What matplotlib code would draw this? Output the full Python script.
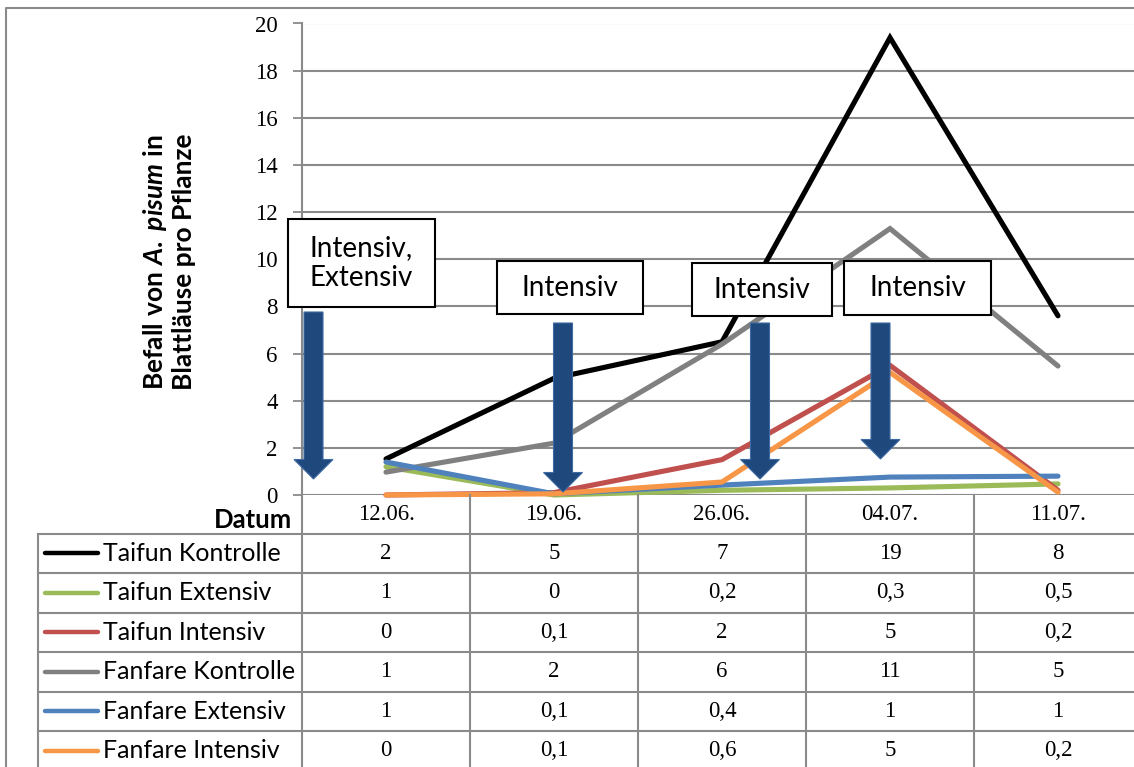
import matplotlib
matplotlib.use("Agg")
import matplotlib.pyplot as plt
from matplotlib.patches import Polygon, Rectangle
from matplotlib.lines import Line2D

# ---- data -------------------------------------------------------------
dates = ["12.06.", "19.06.", "26.06.", "04.07.", "11.07."]
series_names = ["Taifun Kontrolle", "Taifun Extensiv", "Taifun Intensiv",
                "Fanfare Kontrolle", "Fanfare Extensiv", "Fanfare Intensiv"]
series_colors = ["#000000", "#9BBB59", "#C0504D", "#808080", "#4F81BD", "#F79646"]

taifun_kontrolle = [1.53, 4.95, 6.5, 19.4, 7.6]
taifun_extensiv = [1.2, 0.0, 0.2, 0.3, 0.47]
taifun_intensiv = [0.0, 0.1, 1.5, 5.5, 0.2]
fanfare_kontrolle = [0.97, 2.2, 6.4, 11.3, 5.47]
fanfare_extensiv = [1.4, 0.05, 0.42, 0.76, 0.8]
fanfare_intensiv = [0.0, 0.05, 0.55, 5.2, 0.12]

# values as printed in the data table below the chart
taifun_kontrolle_txt = ["2", "5", "7", "19", "8"]
taifun_extensiv_txt = ["1", "0", "0,2", "0,3", "0,5"]
taifun_intensiv_txt = ["0", "0,1", "2", "5", "0,2"]
fanfare_kontrolle_txt = ["1", "2", "6", "11", "5"]
fanfare_extensiv_txt = ["1", "0,1", "0,4", "1", "1"]
fanfare_intensiv_txt = ["0", "0,1", "0,6", "5", "0,2"]

y_ticks = [0, 2, 4, 6, 8, 10, 12, 14, 16, 18, 20]

# treatment call-out labels
callouts = ["Intensiv,\nExtensiv", "Intensiv", "Intensiv", "Intensiv"]

series_values = [taifun_kontrolle, taifun_extensiv, taifun_intensiv,
                 fanfare_kontrolle, fanfare_extensiv, fanfare_intensiv]
series_text = [taifun_kontrolle_txt, taifun_extensiv_txt, taifun_intensiv_txt,
               fanfare_kontrolle_txt, fanfare_extensiv_txt, fanfare_intensiv_txt]

# ---- figure ------------------------------------------------------------
W, H = 1134, 767
SANS = ["Lato", "DejaVu Sans"]
SERIF = ["Liberation Serif", "DejaVu Serif"]
GRID = "#8A8A8A"
NUM_FS = 16.5
LBL_FS = 18

plt.rcParams["mathtext.fontset"] = "custom"
plt.rcParams["mathtext.bf"] = "Lato:bold"
plt.rcParams["mathtext.it"] = "Lato:bold:italic"
plt.rcParams["mathtext.rm"] = "Lato:bold"

fig = plt.figure(figsize=(W / 100, H / 100), dpi=100)

# plot area in pixel layout (left, right, top of 20, zero line)
PX_L, PX_R, PX_T, PX_B = 302, 1142, 23.5, 495
ax = fig.add_axes([PX_L / W, 1 - PX_B / H, (PX_R - PX_L) / W, (PX_B - PX_T) / H])
ax.set_zorder(1)
ax.patch.set_alpha(0)

x = [i + 0.5 for i in range(len(dates))]
for vals, col in zip(series_values, series_colors):
    ax.plot(x, vals, color=col, lw=3.7, solid_capstyle="round",
            solid_joinstyle="miter", clip_on=False, zorder=3)

ax.set_xlim(0, len(dates))
ax.set_ylim(0, 20)
ax.set_yticks(y_ticks)
ax.set_yticklabels([str(t) for t in y_ticks], fontfamily=SERIF, fontsize=NUM_FS)
ax.set_xticks([])
ax.grid(axis="y", color=GRID, lw=1.5, zorder=0)
for s in ["top", "right", "bottom"]:
    ax.spines[s].set_visible(False)
ax.spines["left"].set_color(GRID)
ax.spines["left"].set_linewidth(1.5)
ax.tick_params(axis="y", length=6.5, width=1.3, color=GRID, pad=11)

# ---- overlay in pixel coordinates (table, frame, call-outs) ------------
ov = fig.add_axes([0, 0, 1, 1])
ov.set_zorder(2)
ov.patch.set_alpha(0)
ov.set_xlim(0, W)
ov.set_ylim(H, 0)
ov.axis("off")


def colx(v):
    """Category-axis position -> pixel x."""
    return ax.transData.transform((v, 0))[0]


# y-axis title, two lines
ov.text(155, 262, r"$\mathbf{Befall\ von\ }\mathit{A.\ pisum}\mathbf{\ in}$",
        rotation=90, ha="center", va="center", fontsize=19)
ov.text(184, 262, "Blattläuse pro Pflanze", rotation=90, ha="center",
        va="center", fontsize=19, fontweight="bold", fontfamily=SANS)

# outer frame
ov.add_line(Line2D([6, 6, W + 5], [H + 5, 8, 8], color=GRID, lw=1.5))

# data table
row_edges = [495, 533.5, 573, 612.5, 652, 691.5, 731, 770.5]
tbl_left = 38
x_edges = [colx(i) for i in range(len(dates) + 1)]
lw_t = 1.5
for yb in row_edges[1:]:
    ov.add_line(Line2D([tbl_left, x_edges[-1]], [yb, yb], color=GRID, lw=lw_t))
ov.add_line(Line2D([tbl_left, tbl_left], [row_edges[1], H + 5], color=GRID, lw=lw_t))
for xe in x_edges:
    ov.add_line(Line2D([xe, xe], [row_edges[0], H + 5], color=GRID, lw=lw_t))

ov.text(292, 520, "Datum", ha="right", va="center", fontfamily=SANS,
        fontsize=18.5, fontweight="bold")
for i, d in enumerate(dates):
    ov.text(colx(x[i]), 515, d, ha="center", va="center",
            fontfamily=SERIF, fontsize=NUM_FS)

for r, (name, col, txts) in enumerate(zip(series_names, series_colors, series_text)):
    yc = (row_edges[r + 1] + row_edges[r + 2]) / 2
    ov.add_line(Line2D([45, 98], [yc, yc], color=col, lw=3.2, solid_capstyle="round"))
    ov.text(103, yc, name, ha="left", va="center", fontfamily=SANS, fontsize=LBL_FS)
    for i, t in enumerate(txts):
        ov.text(colx(x[i]), yc, t, ha="center", va="center",
                fontfamily=SERIF, fontsize=NUM_FS)

# call-out boxes (left, top, right, bottom in px)
boxes = [(288, 219, 435, 307), (497, 261, 643, 314),
         (692, 263, 832, 316), (844, 261, 991, 315)]
for (l, t, r_, b), label in zip(boxes, callouts):
    ov.add_patch(Rectangle((l, t), r_ - l, b - t, facecolor="white",
                           edgecolor="black", lw=1.5, zorder=5))
    ov.text((l + r_) / 2, (t + b) / 2, label, ha="center", va="center",
            fontfamily=SANS, fontsize=20, linespacing=1.15, zorder=6)

# treatment arrows (centre x, shaft top, tip) in px
arrows = [(313.5, 312, 479), (563, 323, 492), (760, 323, 479), (880.5, 323, 459)]
SHAFT, HEAD, HEAD_LEN = 9.5, 19.5, 19.5
for cx, top, tip in arrows:
    verts = [(cx - SHAFT, top), (cx + SHAFT, top), (cx + SHAFT, tip - HEAD_LEN),
             (cx + HEAD, tip - HEAD_LEN), (cx, tip), (cx - HEAD, tip - HEAD_LEN),
             (cx - SHAFT, tip - HEAD_LEN)]
    ov.add_patch(Polygon(verts, closed=True, facecolor="#1F497D",
                         edgecolor="#3E6BA3", lw=0.8, zorder=4))

fig.savefig("out.png", dpi=100)
